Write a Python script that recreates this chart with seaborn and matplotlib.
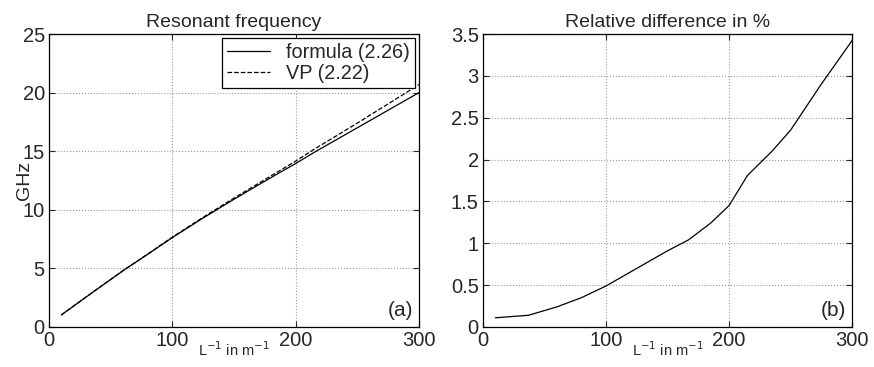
import numpy as np
import pandas as pd
import matplotlib
matplotlib.use("Agg")
import matplotlib.pyplot as plt
import seaborn as sns

# --- data ---
inv_len = [10, 37, 60, 80, 100, 125, 150, 167, 185, 200, 215, 235, 250, 275, 300]
freq_formula = [1.03, 3.08, 4.80, 6.20, 7.63, 9.30, 10.90, 11.95, 13.05, 13.95,
                14.90, 16.10, 17.00, 18.50, 20.00]
rel_diff = [0.11, 0.14, 0.24, 0.35, 0.49, 0.70, 0.91, 1.04, 1.24, 1.45,
            1.81, 2.10, 2.35, 2.90, 3.42]
freq_vp = [f * (1 + d / 100) for f, d in zip(freq_formula, rel_diff)]

df = pd.DataFrame({"x": inv_len, "formula": freq_formula, "vp": freq_vp, "diff": rel_diff})

sns.set_style("ticks")
plt.rcParams["font.family"] = ["Liberation Sans", "DejaVu Sans"]
plt.rcParams["xtick.direction"] = "in"
plt.rcParams["ytick.direction"] = "in"

fig = plt.figure(figsize=(8.74, 3.67), dpi=100)
ax1 = fig.add_axes([49 / 874, 40 / 367, 370 / 874, 293 / 367])
ax2 = fig.add_axes([483 / 874, 40 / 367, 369 / 874, 293 / 367])

sns.lineplot(data=df, x="x", y="formula", ax=ax1, color="black", lw=0.9,
             label="formula (2.26)")
sns.lineplot(data=df, x="x", y="vp", ax=ax1, color="black", lw=0.9,
             linestyle="--", label="VP (2.22)")
sns.lineplot(data=df, x="x", y="diff", ax=ax2, color="black", lw=0.9)

for ax in (ax1, ax2):
    ax.set_xlim(0, 300)
    ax.set_xticks([0, 100, 200, 300])
    ax.grid(True, linestyle=":", color="#999999", lw=0.8)
    ax.tick_params(labelsize=14.5, top=True, right=True, length=4, width=0.8, pad=3)
    for s in ax.spines.values():
        s.set_linewidth(0.9)
        s.set_color("black")
    ax.set_xlabel(r"L$^{-1}$ in m$^{-1}$", fontsize=10.5, labelpad=-7)

ax1.set_ylim(0, 25)
ax1.set_yticks([0, 5, 10, 15, 20, 25])
ax1.set_ylabel("GHz", fontsize=14, va="center")
ax1.yaxis.set_label_coords(-0.065, 0.5)
ax1.set_title("Resonant frequency", fontsize=14, pad=5)
ax1.text(0.985, 0.025, "(a)", transform=ax1.transAxes, ha="right", va="bottom", fontsize=15)
leg = ax1.legend(loc="upper right", fontsize=14.3, frameon=True, fancybox=False,
                 borderaxespad=0.2, handlelength=2.2, handletextpad=0.8,
                 borderpad=0.25, labelspacing=0.1)
leg.get_frame().set_edgecolor("black")
leg.get_frame().set_linewidth(0.9)
leg.get_frame().set_alpha(1)

ax2.set_ylim(0, 3.5)
ax2.set_yticks([0, 0.5, 1, 1.5, 2, 2.5, 3, 3.5])
ax2.set_yticklabels(["0", "0.5", "1", "1.5", "2", "2.5", "3", "3.5"])
ax2.set_ylabel("")
ax2.set_title("Relative difference in %", fontsize=14, pad=5)
ax2.text(0.985, 0.025, "(b)", transform=ax2.transAxes, ha="right", va="bottom", fontsize=15)

fig.savefig("out.png", dpi=100)
